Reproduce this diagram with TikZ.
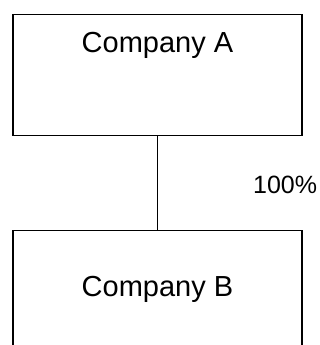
\documentclass[tikz,border=0pt]{standalone}
\usepackage{fontspec}
\setmainfont{Liberation Sans}
\usetikzlibrary{positioning}

\tikzset{
  company/.style={draw, line width=1.2pt, inner sep=0pt, minimum width=289pt, align=center, font=\fontsize{29}{34}\selectfont},
  share/.style={inner sep=0pt, font=\fontsize{25}{30}\selectfont}
}

\begin{document}
\begin{tikzpicture}[x=1pt, y=1pt]
      \useasboundingbox (0,0) rectangle (320,345);
      % Holding structure
      \node[company, text height=37.7pt, text depth=83.3pt, anchor=north] (compA) at (157.5,331) {Company A};
      \node[company, text height=66pt, text depth=60pt, anchor=north] (compB) at (157.5,115) {Company B};
      
      \draw[line width=1.2pt] (compA) -- node[share, right=95pt, yshift=-1.5pt] {100\%} (compB);
    \end{tikzpicture}
\end{document}
